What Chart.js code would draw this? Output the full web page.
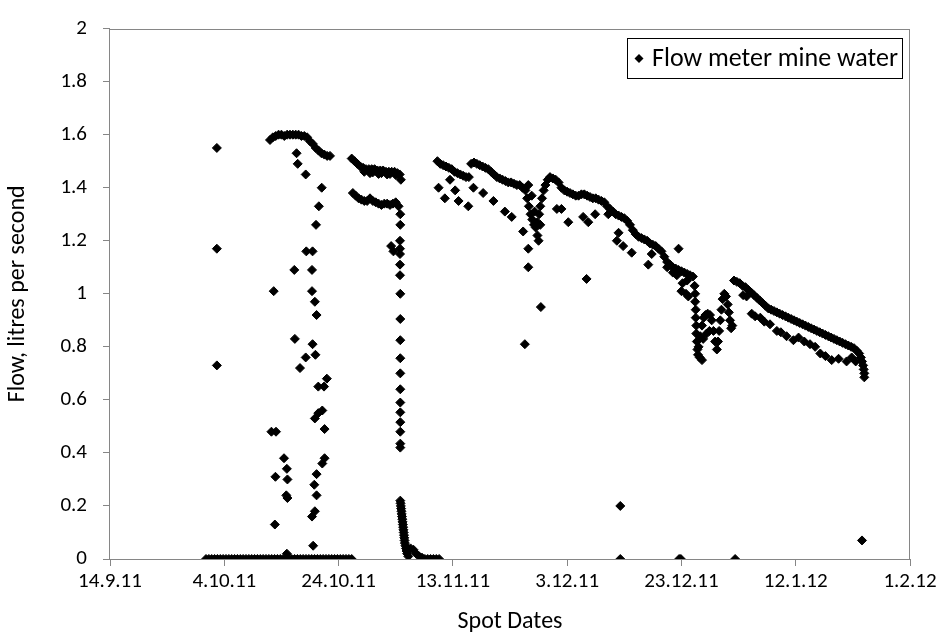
<!DOCTYPE html>
<html>
<head>
<meta charset="utf-8">
<title>Flow meter mine water</title>
<script src="https://cdn.jsdelivr.net/npm/chart.js@4.4.1/dist/chart.umd.min.js"></script>
<style>
  html, body { margin: 0; padding: 0; background: #fff; }
  #flowChart { display: block; }
</style>
</head>
<body>
<canvas id="flowChart" width="941" height="644"></canvas>
<script>
// x values are days since 14.9.11, y values are litres per second
const seriesLabel = 'Flow meter mine water';
const xTitle = 'Spot Dates';
const yTitle = 'Flow, litres per second';

const xTickDays = [0, 20, 40, 60, 80, 100, 120, 140];
const xTickLabels = ['14.9.11', '4.10.11', '24.10.11', '13.11.11', '3.12.11', '23.12.11', '12.1.12', '1.2.12'];
const yTickValues = [0, 0.2, 0.4, 0.6, 0.8, 1, 1.2, 1.4, 1.6, 1.8, 2];
const yTickLabels = ['0', '0.2', '0.4', '0.6', '0.8', '1', '1.2', '1.4', '1.6', '1.8', '2'];

// meter reading zero through October
const zeroDays = [16.8, 17.3, 17.8, 18.3, 18.8, 19.3, 19.8, 20.3, 20.8, 21.3, 21.8, 22.3, 22.8, 23.3, 23.8,
  24.3, 24.8, 25.3, 25.8, 26.3, 26.8, 27.3, 27.8, 28.3, 28.8, 29.3, 29.8, 30.3, 30.8, 31.3, 31.8, 32.3,
  32.8, 33.3, 33.8, 34.3, 34.8, 35.3, 35.8, 36.3, 36.8, 37.3, 37.8, 38.3, 38.8, 39.3, 39.8, 40.3, 40.8,
  41.3, 41.8, 42.3];

const earlySpikes = [[18.7, 1.55], [18.7, 1.17], [18.7, 0.73]];

const octPlateau = [[28.0, 1.58], [28.5, 1.59], [29.0, 1.595], [29.5, 1.6], [30.0, 1.6], [30.5, 1.595],
  [31.0, 1.6], [31.5, 1.6], [32.0, 1.6], [32.5, 1.6], [33.0, 1.6], [33.5, 1.595], [34.0, 1.595], [34.5, 1.59],
  [35.0, 1.575], [35.5, 1.565], [36.0, 1.55], [36.5, 1.54], [37.0, 1.53], [37.5, 1.525], [38.0, 1.52], [38.5, 1.52]];

const octScatter = [[28.65, 1.01], [28.25, 0.48], [29.05, 0.48], [28.95, 0.31], [28.85, 0.13], [30.45, 0.38],
  [30.95, 0.34], [31.05, 0.3], [30.85, 0.24], [31.05, 0.23], [30.95, 0.02], [32.25, 1.09], [32.35, 0.83],
  [32.65, 1.53], [32.85, 1.49], [33.25, 0.72], [34.25, 1.45], [34.25, 0.76], [34.35, 1.16], [35.45, 1.16],
  [35.35, 1.09], [35.35, 1.01], [35.45, 0.81], [35.35, 0.16], [35.55, 0.05], [35.85, 0.97], [35.95, 0.77],
  [36.15, 0.92], [36.05, 1.26], [36.55, 1.33], [37.05, 1.4], [36.45, 0.65], [37.45, 0.65], [37.95, 0.68],
  [37.15, 0.56], [36.45, 0.55], [35.85, 0.53], [37.55, 0.49], [37.55, 0.38], [37.15, 0.36], [36.15, 0.32],
  [35.75, 0.28], [36.15, 0.24], [35.85, 0.18]];

const lateOctUpper = [[42.3, 1.51], [42.8, 1.5], [43.3, 1.49], [43.8, 1.48], [44.3, 1.475], [44.8, 1.47],
  [45.3, 1.47], [45.8, 1.47], [46.3, 1.47], [46.8, 1.465], [47.3, 1.465], [47.8, 1.465], [48.3, 1.46],
  [48.8, 1.46], [49.3, 1.46], [49.8, 1.46], [50.3, 1.455], [50.7, 1.45], [50.9, 1.43], [44.5, 1.46],
  [45.5, 1.455], [46.0, 1.458], [47.0, 1.452], [47.5, 1.455], [48.5, 1.45], [49.0, 1.452], [50.0, 1.448]];

const lateOctLower = [[42.5, 1.38], [43.0, 1.37], [43.5, 1.36], [44.0, 1.355], [44.5, 1.35], [45.0, 1.35],
  [45.5, 1.36], [46.0, 1.35], [46.5, 1.345], [47.0, 1.34], [47.5, 1.335], [48.0, 1.34], [48.5, 1.34],
  [49.0, 1.335], [49.5, 1.34], [50.0, 1.345], [50.5, 1.33]];

const novDrop = [[50.8, 1.3], [50.8, 1.26], [50.75, 1.2], [50.75, 1.17], [50.75, 1.15], [50.75, 1.11],
  [50.75, 1.07], [50.8, 1.0], [50.8, 0.905], [50.8, 0.825], [50.8, 0.757], [50.8, 0.7], [50.8, 0.64],
  [50.8, 0.59], [50.8, 0.553], [50.8, 0.516], [50.8, 0.48], [50.8, 0.435], [50.8, 0.42], [49.2, 1.18],
  [49.6, 1.16]];

const novTail = [[50.8, 0.22], [50.85, 0.21], [50.9, 0.2], [50.95, 0.19], [51.0, 0.18], [51.05, 0.17],
  [51.1, 0.16], [51.15, 0.15], [51.2, 0.14], [51.25, 0.13], [51.3, 0.12], [51.35, 0.11], [51.4, 0.1],
  [51.45, 0.09], [51.5, 0.08], [51.55, 0.07], [51.6, 0.06], [51.7, 0.05], [51.8, 0.04], [51.9, 0.03],
  [52.0, 0.02], [52.2, 0.01], [52.6, 0.04], [53.1, 0.035], [53.6, 0.02], [54.1, 0.01], [54.6, 0.005],
  [55.1, 0], [55.6, 0], [56.1, 0], [56.6, 0], [57.1, 0], [57.6, 0]];

const decUpper = [[57.3, 1.5], [57.8, 1.49], [58.3, 1.485], [58.8, 1.48], [59.3, 1.475], [59.8, 1.47],
  [60.3, 1.46], [60.8, 1.455], [61.3, 1.45], [61.8, 1.445], [62.3, 1.44], [62.8, 1.44],
  [63.2, 1.49], [63.7, 1.495], [64.2, 1.49], [64.7, 1.485], [65.2, 1.48], [65.7, 1.475], [66.2, 1.47],
  [66.7, 1.46], [67.2, 1.45], [67.7, 1.44], [68.2, 1.435], [68.7, 1.43], [69.2, 1.425], [69.7, 1.42],
  [70.2, 1.42], [70.7, 1.415], [71.2, 1.41], [71.7, 1.41], [72.2, 1.4], [72.7, 1.39],
  [73.0, 1.36], [73.3, 1.33], [73.6, 1.3], [73.9, 1.28], [74.2, 1.26], [74.5, 1.25], [74.8, 1.27],
  [75.1, 1.3], [75.3, 1.33], [75.6, 1.36], [75.9, 1.39], [76.2, 1.41], [76.6, 1.43], [77.0, 1.44],
  [77.5, 1.435], [78.0, 1.43], [78.5, 1.42], [73.2, 1.41], [73.8, 1.37], [74.3, 1.31], [74.8, 1.22],
  [75.3, 1.26],
  [79.0, 1.4], [79.5, 1.39], [80.0, 1.385], [80.5, 1.38], [81.0, 1.375], [81.5, 1.37], [82.0, 1.37],
  [82.5, 1.375], [83.0, 1.375], [83.5, 1.37], [84.0, 1.365], [84.5, 1.36], [85.0, 1.36], [85.5, 1.355],
  [86.0, 1.35], [86.5, 1.345], [87.0, 1.33], [87.5, 1.32], [88.0, 1.31], [88.5, 1.3], [89.0, 1.295],
  [89.5, 1.29], [90.0, 1.285], [90.5, 1.275], [91.0, 1.26], [91.5, 1.24], [92.0, 1.225], [92.5, 1.215],
  [93.0, 1.21], [93.5, 1.205], [94.0, 1.2], [94.5, 1.19], [95.0, 1.185], [95.5, 1.18], [96.0, 1.17],
  [96.5, 1.16], [97.0, 1.14], [97.5, 1.12], [98.0, 1.11], [98.5, 1.1], [99.0, 1.095], [99.5, 1.09],
  [100.0, 1.085], [100.5, 1.08], [101.0, 1.075], [101.5, 1.07], [102.0, 1.065]];

const decScatter = [[57.5, 1.4], [58.6, 1.36], [59.5, 1.43], [60.4, 1.39], [61.0, 1.35], [62.7, 1.33],
  [63.6, 1.4], [65.3, 1.38], [67.1, 1.35], [69.1, 1.31], [70.3, 1.29], [72.3, 1.235], [73.2, 1.17],
  [75.0, 1.2], [73.2, 1.1], [75.4, 0.95], [72.6, 0.81], [78.2, 1.32], [79.0, 1.32], [80.2, 1.27],
  [82.8, 1.29], [83.7, 1.27], [84.9, 1.3], [87.2, 1.3], [89.0, 1.23], [88.7, 1.2], [89.8, 1.18],
  [91.3, 1.155], [94.2, 1.11], [94.8, 1.15], [99.5, 1.17], [100.0, 1.01], [83.4, 1.056], [100.2, 1.04],
  [100.8, 1.0], [101.2, 0.99], [97.5, 1.1], [98.5, 1.08], [99.2, 1.07], [101.0, 1.05]];

const newYearDip = [[102.3, 1.03], [102.4, 1.0], [102.4, 0.97], [102.5, 0.94], [102.5, 0.91], [102.6, 0.88],
  [102.6, 0.85], [102.7, 0.82], [102.8, 0.79], [102.9, 0.77], [103.2, 0.76], [103.6, 0.75], [103.0, 0.8],
  [103.3, 0.84], [103.6, 0.88], [103.9, 0.91], [104.2, 0.92], [104.6, 0.925], [105.0, 0.92], [105.3, 0.9],
  [105.6, 0.86], [105.9, 0.82], [106.2, 0.79], [106.4, 0.82], [106.6, 0.86], [106.8, 0.9], [107.0, 0.94],
  [107.2, 0.98], [107.5, 1.0], [107.8, 0.99], [108.1, 0.96], [108.3, 0.93], [108.5, 0.9], [108.7, 0.87],
  [108.9, 0.88], [103.8, 0.83], [104.4, 0.85], [104.9, 0.86]];

const janUpper = [[109.2, 1.05], [109.7, 1.045], [110.2, 1.04], [110.7, 1.03], [111.2, 1.025], [111.7, 1.015],
  [112.2, 1.005], [112.7, 0.995], [113.2, 0.985], [113.7, 0.975], [114.2, 0.965], [114.7, 0.955],
  [115.2, 0.945], [115.7, 0.94], [116.2, 0.935], [116.7, 0.93], [117.2, 0.925], [117.7, 0.92],
  [118.2, 0.915], [118.7, 0.91], [119.2, 0.905], [119.7, 0.9], [120.2, 0.895], [120.7, 0.89],
  [121.2, 0.885], [121.7, 0.88], [122.2, 0.875], [122.7, 0.87], [123.2, 0.865], [123.7, 0.86],
  [124.2, 0.855], [124.7, 0.85], [125.2, 0.845], [125.7, 0.84], [126.2, 0.835], [126.7, 0.83],
  [127.2, 0.825], [127.7, 0.82], [128.2, 0.815], [128.7, 0.81], [129.2, 0.805], [129.7, 0.8],
  [130.2, 0.795], [130.7, 0.785], [131.1, 0.775], [131.4, 0.76], [131.6, 0.745], [131.8, 0.73],
  [131.9, 0.715], [132.0, 0.7], [132.0, 0.685]];

const janScatter = [[111.4, 0.99], [112.3, 0.925], [113.8, 0.91], [115.5, 0.885], [116.7, 0.86], [118.4, 0.84],
  [119.6, 0.825], [122.5, 0.81], [124.3, 0.775], [126.3, 0.75], [128.9, 0.745], [110.8, 0.995],
  [112.9, 0.915], [114.5, 0.895], [117.4, 0.855], [120.5, 0.835], [121.5, 0.82], [123.4, 0.8],
  [125.2, 0.765], [127.5, 0.755], [129.8, 0.76], [130.5, 0.745]];

const strayReadings = [[89.3, 0], [89.3, 0.2], [99.6, 0], [99.9, 0], [109.4, 0], [131.6, 0.07]];

function toPoints(pairs) {
  return pairs.map(p => ({ x: p[0], y: p[1] }));
}

const flowPoints = [].concat(
  zeroDays.map(d => ({ x: d, y: 0 })),
  toPoints(earlySpikes),
  toPoints(octPlateau),
  toPoints(octScatter),
  toPoints(lateOctUpper),
  toPoints(lateOctLower),
  toPoints(novDrop),
  toPoints(novTail),
  toPoints(decUpper),
  toPoints(decScatter),
  toPoints(newYearDip),
  toPoints(janUpper),
  toPoints(janScatter),
  toPoints(strayReadings)
);

const fontFamily = 'Carlito, Lato, sans-serif';
const axisGrey = '#868686';

// box around the plot area
const plotFrame = {
  id: 'plotFrame',
  beforeDatasetsDraw(chart) {
    const a = chart.chartArea;
    const ctx = chart.ctx;
    ctx.save();
    ctx.strokeStyle = axisGrey;
    ctx.lineWidth = 1;
    ctx.strokeRect(Math.round(a.left) - 0.5, Math.round(a.top) + 0.5,
      Math.round(a.right - a.left), Math.round(a.bottom - a.top));
    ctx.restore();
  }
};

// legend with a border, top right inside the plot
const boxedLegend = {
  id: 'boxedLegend',
  afterDraw(chart) {
    const a = chart.chartArea;
    const ctx = chart.ctx;
    ctx.save();
    ctx.font = '26px ' + fontFamily;
    const textW = ctx.measureText(seriesLabel).width;
    const right = Math.round(a.right) - 7;
    const top = Math.round(a.top) + 9;
    const h = 41;
    const left = right - textW - 30;
    ctx.fillStyle = '#fff';
    ctx.fillRect(left, top, right - left, h);
    ctx.strokeStyle = '#000';
    ctx.lineWidth = 1;
    ctx.strokeRect(Math.round(left) + 0.5, top + 0.5, Math.round(right - left) - 1, h - 1);
    const mx = left + 12, my = top + h / 2, r = 4.5;
    ctx.fillStyle = '#000';
    ctx.beginPath();
    ctx.moveTo(mx - r, my);
    ctx.lineTo(mx, my - r);
    ctx.lineTo(mx + r, my);
    ctx.lineTo(mx, my + r);
    ctx.closePath();
    ctx.fill();
    ctx.textBaseline = 'middle';
    ctx.textAlign = 'left';
    ctx.fillText(seriesLabel, left + 25, my + 1);
    ctx.restore();
  }
};

const ctx = document.getElementById('flowChart').getContext('2d');
const flowChart = new Chart(ctx, {
  type: 'scatter',
  data: {
    datasets: [{
      label: seriesLabel,
      data: flowPoints,
      pointStyle: 'rectRot',
      pointRadius: 4.5,
      pointBorderWidth: 1,
      backgroundColor: '#000',
      borderColor: '#000',
      showLine: false
    }]
  },
  options: {
    responsive: false,
    animation: false,
    events: [],
    layout: { padding: { left: 0, top: 21, right: 31, bottom: 0 } },
    plugins: {
      legend: { display: false },
      tooltip: { enabled: false }
    },
    scales: {
      x: {
        type: 'linear',
        min: xTickDays[0],
        max: xTickDays[xTickDays.length - 1],
        afterFit: s => { s.height = 85; },
        afterBuildTicks: s => { s.ticks = xTickDays.map(v => ({ value: v })); },
        border: { display: false },
        grid: { drawOnChartArea: false, drawTicks: true, tickLength: 7, color: axisGrey },
        ticks: {
          padding: 3,
          color: '#000',
          font: { family: fontFamily, size: 21 },
          maxRotation: 0,
          autoSkip: false,
          callback: (v, i) => xTickLabels[i]
        },
        title: {
          display: true,
          text: xTitle,
          color: '#000',
          font: { family: fontFamily, size: 24 },
          padding: { top: 0, bottom: 8 }
        }
      },
      y: {
        min: yTickValues[0],
        max: yTickValues[yTickValues.length - 1],
        afterFit: s => { s.width = 110; },
        afterBuildTicks: s => { s.ticks = yTickValues.map(v => ({ value: v })); },
        border: { display: false },
        grid: { drawOnChartArea: false, drawTicks: true, tickLength: 7, color: axisGrey },
        ticks: {
          padding: 16,
          color: '#000',
          font: { family: fontFamily, size: 21 },
          autoSkip: false,
          callback: (v, i) => yTickLabels[i]
        },
        title: {
          display: true,
          text: yTitle,
          color: '#000',
          font: { family: fontFamily, size: 24 },
          padding: { top: 4, bottom: 4 }
        }
      }
    }
  },
  plugins: [plotFrame, boxedLegend]
});
</script>
</body>
</html>
